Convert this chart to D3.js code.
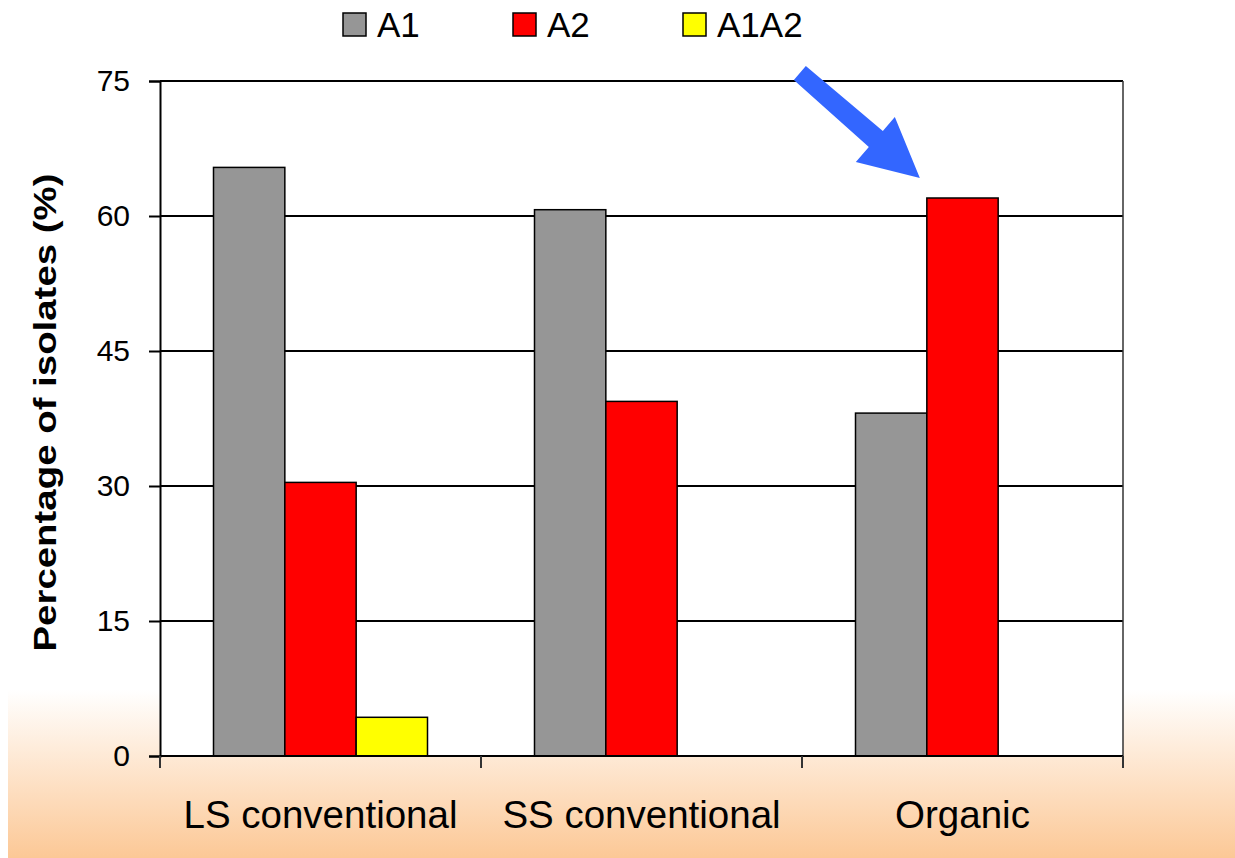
<!DOCTYPE html>
<html>
<head>
<meta charset="utf-8">
<script src="https://cdn.jsdelivr.net/npm/d3@7/dist/d3.min.js"></script>
<style>
  html, body { margin: 0; padding: 0; background: #fff; }
  svg { display: block; font-family: "Liberation Sans", Arial, sans-serif; }
</style>
</head>
<body>
<svg id="chart" width="1235" height="858"></svg>
<script>
// Isolate groups and the share of each genotype within them (%)
const categories = ["LS conventional", "SS conventional", "Organic"];
const series = ["A1", "A2", "A1A2"];
const valuesA1 = [65.4, 60.7, 38.1];
const valuesA2 = [30.4, 39.4, 62.0];
const valuesA1A2 = [4.3, 0, 0];
const yTicks = [0, 15, 30, 45, 60, 75];
const colors = { A1: "#969696", A2: "#ff0000", A1A2: "#ffff00" };

const seriesValues = { A1: valuesA1, A2: valuesA2, A1A2: valuesA1A2 };

const W = 1235, H = 858;
const margin = { left: 160, right: 112, top: 81, bottom: 102 };
const svg = d3.select("#chart");

// Warm background fade along the bottom of the slide
const defs = svg.append("defs");
const grad = defs.append("linearGradient")
  .attr("id", "bgFade").attr("x1", 0).attr("y1", 0).attr("x2", 0).attr("y2", 1);
grad.append("stop").attr("offset", "0%").attr("stop-color", "#ffffff");
grad.append("stop").attr("offset", "100%").attr("stop-color", "#fcc896");
svg.append("rect").attr("x", 8).attr("y", 690).attr("width", W - 8).attr("height", H - 690)
  .attr("fill", "url(#bgFade)");

const x0 = d3.scaleBand().domain(categories).range([margin.left, W - margin.right]).padding(0);
const bw = x0.bandwidth();
const x1 = d3.scaleBand().domain(series).range([bw / 6, bw * 5 / 6]).padding(0);
const y = d3.scaleLinear().domain([0, 75]).range([H - margin.bottom, margin.top]);

// Plot area
svg.append("rect")
  .attr("x", margin.left).attr("y", margin.top)
  .attr("width", W - margin.right - margin.left)
  .attr("height", y(0) - margin.top)
  .attr("fill", "#ffffff");

// Horizontal gridlines
svg.append("g")
  .selectAll("line")
  .data(yTicks.filter(d => d > 0))
  .join("line")
  .attr("x1", margin.left).attr("x2", W - margin.right)
  .attr("y1", d => y(d)).attr("y2", d => y(d))
  .attr("stroke", "#000").attr("stroke-width", 2);

// Right edge of the plot area
svg.append("line")
  .attr("x1", W - margin.right).attr("x2", W - margin.right)
  .attr("y1", margin.top).attr("y2", y(0))
  .attr("stroke", "#333").attr("stroke-width", 1.5);

// Bars
const rows = [];
categories.forEach((c, i) => series.forEach(s => rows.push({ cat: c, ser: s, v: seriesValues[s][i] })));
svg.append("g")
  .selectAll("rect")
  .data(rows.filter(d => d.v > 0))
  .join("rect")
  .attr("x", d => x0(d.cat) + x1(d.ser))
  .attr("y", d => y(d.v))
  .attr("width", x1.bandwidth())
  .attr("height", d => y(0) - y(d.v))
  .attr("fill", d => colors[d.ser])
  .attr("stroke", "#000").attr("stroke-width", 1.5);

// Y axis
const yAxis = svg.append("g")
  .attr("transform", `translate(${margin.left},0)`)
  .call(d3.axisLeft(y).tickValues(yTicks).tickSize(11).tickPadding(19).tickFormat(d3.format("d")));
yAxis.select(".domain").attr("stroke", "#000").attr("stroke-width", 2);
yAxis.selectAll(".tick line").attr("stroke", "#000").attr("stroke-width", 2);
yAxis.selectAll(".tick text").attr("font-size", 30).attr("fill", "#000")
  .attr("font-family", "'Liberation Sans', Arial, sans-serif");

// X axis with ticks at category boundaries
const xAxisG = svg.append("g").attr("transform", `translate(0,${y(0)})`);
xAxisG.append("line")
  .attr("x1", margin.left).attr("x2", W - margin.right)
  .attr("stroke", "#000").attr("stroke-width", 2);
const bounds = categories.map(c => x0(c)).concat([x0(categories[categories.length - 1]) + bw]);
xAxisG.selectAll("line.tick")
  .data(bounds)
  .join("line").attr("class", "tick")
  .attr("x1", d => d).attr("x2", d => d)
  .attr("y1", 0).attr("y2", 12)
  .attr("stroke", "#333").attr("stroke-width", 2);
xAxisG.selectAll("text")
  .data(categories)
  .join("text")
  .attr("x", d => x0(d) + bw / 2)
  .attr("y", 72)
  .attr("text-anchor", "middle")
  .attr("font-size", 38.5)
  .attr("fill", "#000")
  .text(d => d);

// Y axis title
svg.append("text")
  .attr("transform", `translate(56,${(173 + 652) / 2}) rotate(-90)`)
  .attr("text-anchor", "middle")
  .attr("font-size", 31)
  .attr("font-weight", "bold")
  .attr("textLength", 478)
  .attr("lengthAdjust", "spacingAndGlyphs")
  .attr("fill", "#000")
  .text("Percentage of isolates (%)");

// Legend
const legendX = [343, 513, 683];
const legend = svg.append("g")
  .selectAll("g")
  .data(series)
  .join("g")
  .attr("transform", (d, i) => `translate(${legendX[i]},13)`);
legend.append("rect")
  .attr("width", 23).attr("height", 23)
  .attr("fill", d => colors[d])
  .attr("stroke", "#000").attr("stroke-width", 1.5);
legend.append("text")
  .attr("x", 34).attr("y", 24)
  .attr("font-size", 35)
  .attr("fill", "#000")
  .text(d => d);

// Callout arrow pointing at the organic A2 bar
const tipX = x0("Organic") + x1("A2") - 7;
const tipY = y(valuesA2[2]) - 20;
const arrowShape = [[-114, -112], [-37, -47], [-25, -61], [0, 0], [-64, -16], [-51, -31], [-126, -98]];
svg.append("path")
  .attr("d", d3.line()(arrowShape.map(([dx, dy]) => [tipX + dx, tipY + dy])) + "Z")
  .attr("fill", "#3366ff");
</script>
</body>
</html>
